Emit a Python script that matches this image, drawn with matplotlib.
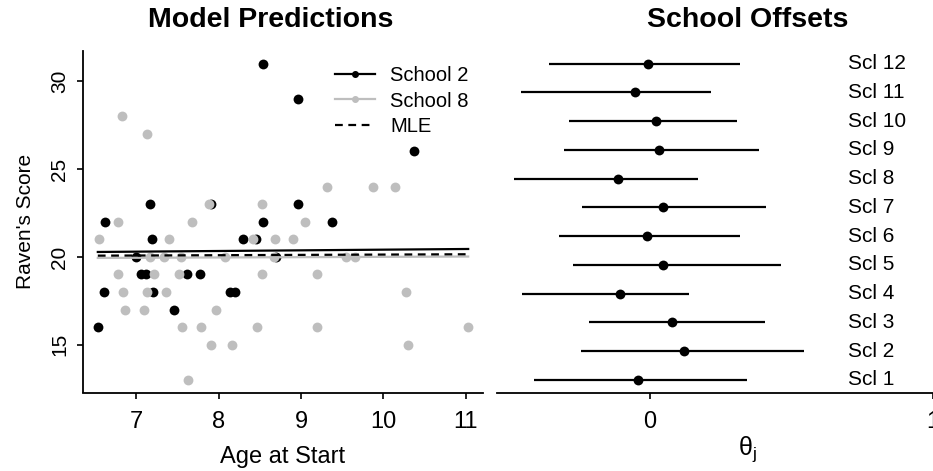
import numpy as np
import matplotlib
matplotlib.use('Agg')
import matplotlib.pyplot as plt
from matplotlib.lines import Line2D

plt.rcParams['font.family'] = ['Liberation Sans', 'DejaVu Sans']
plt.rcParams['mathtext.fontset'] = 'custom'
plt.rcParams['mathtext.rm'] = 'Liberation Sans'
plt.rcParams['mathtext.it'] = 'Liberation Sans:italic'

# School 2 (black) and School 8 (grey): age at start vs Raven's score
age_s2 = [8.54, 8.96, 10.37, 7.16, 7.90, 8.96, 6.62, 8.54, 9.37, 7.19, 8.29, 8.45,
          7.00, 8.70, 7.05, 7.12, 7.61, 7.77, 6.60, 7.20, 8.13, 8.20, 7.45, 6.53]
score_s2 = [31, 29, 26, 23, 23, 23, 22, 22, 22, 21, 21, 21,
            20, 20, 19, 19, 19, 19, 18, 18, 18, 18, 17, 16]

age_s8 = [6.82, 7.13, 9.32, 9.87, 10.14, 7.88, 8.53, 6.77, 7.67, 9.05,
          6.54, 7.40, 8.41, 8.68, 8.90, 7.16, 7.33, 7.54, 8.08, 8.67, 9.55, 9.66,
          6.78, 7.21, 7.52, 8.53, 9.19, 6.83, 7.13, 7.36, 10.28,
          6.86, 7.09, 7.96, 7.55, 7.78, 8.46, 9.19, 11.03, 7.90, 8.16, 10.30, 7.63]
score_s8 = [28, 27, 24, 24, 24, 23, 23, 22, 22, 22,
            21, 21, 21, 21, 21, 20, 20, 20, 20, 20, 20, 20,
            19, 19, 19, 19, 19, 18, 18, 18, 18,
            17, 17, 17, 16, 16, 16, 16, 16, 15, 15, 15, 13]

# fitted lines, evaluated at the ends of the age range
age_ends = [6.53, 11.03]
fit_s2 = [20.28, 20.45]
fit_s8 = [19.94, 20.02]
fit_mle = [20.07, 20.15]

# school offsets: posterior mean and interval
schools = ['Scl %d' % i for i in range(1, 13)]
theta_mean = [-0.043, 0.121, 0.080, -0.106, 0.047, -0.009, 0.046, -0.112, 0.031, 0.020, -0.053, -0.008]
theta_lo = [-0.408, -0.245, -0.215, -0.451, -0.271, -0.321, -0.238, -0.481, -0.304, -0.287, -0.455, -0.355]
theta_hi = [0.344, 0.544, 0.408, 0.137, 0.465, 0.319, 0.410, 0.170, 0.385, 0.308, 0.215, 0.317]

W, H = 933, 471
fig = plt.figure(figsize=(W / 100, H / 100), dpi=100)

def px_axes(x0, x1, ytop, ybot):
    return fig.add_axes([x0 / W, (H - ybot) / H, (x1 - x0) / W, (ybot - ytop) / H])

grey = '#bebebe'
hfs = 17      # horizontal text
vfs = 15      # rotated text
dash = (0, (3.5, 2.5))
pt_size = 50

# ---- left panel
ax1 = px_axes(83, 483, 51, 392.5)
ax1.scatter(age_s2, score_s2, s=pt_size, c='black', lw=0, zorder=2)
ax1.scatter(age_s8, score_s8, s=pt_size, c=grey, lw=0, zorder=3)
ax1.plot(age_ends, fit_s2, color='black', lw=1.6, zorder=4)
ax1.plot(age_ends, fit_s8, color=grey, lw=1.6, zorder=4)
ax1.plot(age_ends, fit_mle, color='black', lw=1.6, ls=dash, zorder=5)
ax1.set_xlim(6.35, 11.21)
ax1.set_ylim(12.28, 31.72)
ax1.set_xticks([7, 8, 9, 10, 11])
ax1.set_yticks([15, 20, 25, 30])
ax1.set_yticklabels(['15', '20', '25', '30'], rotation=90, va='center', fontsize=vfs)
for s in ['top', 'right']:
    ax1.spines[s].set_visible(False)
for s in ['left', 'bottom']:
    ax1.spines[s].set_linewidth(1.3)
ax1.tick_params(direction='out', length=4, width=1.2, pad=6)
ax1.tick_params(axis='x', labelsize=hfs, pad=9)
ax1.set_xlabel('Age at Start', fontsize=hfs, labelpad=10)
ax1.set_ylabel("Raven's Score", fontsize=vfs, labelpad=11)
ax1.set_title('Model Predictions', fontsize=20.5, fontweight='bold', pad=17, x=0.47)

handles = [Line2D([], [], color='black', lw=1.6, marker='o', ms=4),
           Line2D([], [], color=grey, lw=1.6, marker='o', ms=4),
           Line2D([], [], color='black', lw=1.6, ls=dash)]
ax1.legend(handles, ['School 2', 'School 8', 'MLE'], loc='upper left',
           bbox_to_anchor=(0.6, 0.99), frameon=False, fontsize=14.5,
           handlelength=2.0, handletextpad=0.75, labelspacing=0.3, borderaxespad=0.2)

# ---- right panel
ax2 = px_axes(497, 998, 51, 392.5)
rows = np.arange(1, len(schools) + 1)
ax2.hlines(rows, theta_lo, theta_hi, color='black', lw=1.6)
ax2.scatter(theta_mean, rows, s=pt_size, c='black', lw=0, zorder=3)
for r, name in zip(rows, schools):
    ax2.text(0.70, r, name, fontsize=15, ha='left', va='center')
ax2.set_xlim(-0.54, 1.23)
ax2.set_ylim(0.56, 12.44)
ax2.set_xticks([0, 1])
ax2.set_yticks([])
for s in ['top', 'right', 'left']:
    ax2.spines[s].set_visible(False)
ax2.spines['bottom'].set_linewidth(1.3)
ax2.tick_params(direction='out', length=4, width=1.2, labelsize=hfs, pad=9)
ax2.set_xlabel(r'$\mathrm{\theta_j}$', fontsize=18, labelpad=1)
ax2.set_title('School Offsets', fontsize=20.5, fontweight='bold', pad=17)

fig.savefig('out.png', dpi=100)
